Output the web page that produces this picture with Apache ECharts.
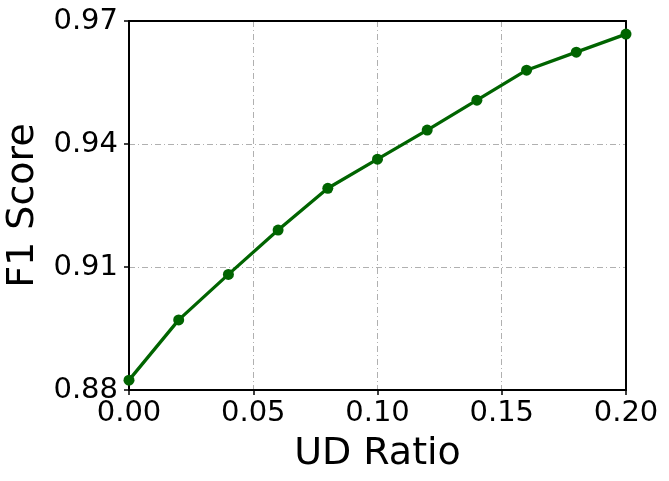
<!DOCTYPE html>
<html>
<head>
	<meta charset="utf-8">
	<title>UD Ratio vs F1 Score</title>
	<script type="text/javascript" src="https://cdn.jsdelivr.net/npm/echarts@6/dist/echarts.min.js"></script>
	<style type="text/css">
		html, body{
			margin:0;
			padding:0;
			background:#fff;
		}
	</style>
</head>
<body>
<div id="main" style="width: 669px;height: 481px"></div>
<script type="text/javascript">
	// values
	var udRatio = [0.00, 0.02, 0.04, 0.06, 0.08, 0.10, 0.12, 0.14, 0.16, 0.18, 0.20];
	var f1Score = [0.8824, 0.8971, 0.9082, 0.9190, 0.9292, 0.9363, 0.9434, 0.9507, 0.9580, 0.9624, 0.9668];
	var xTicks = [0, 0.05, 0.10, 0.15, 0.20];
	var yTicks = [0.88, 0.91, 0.94, 0.97];

	var points = [];
	for(var i=0;i<udRatio.length;i++){
		points.push([udRatio[i], f1Score[i]]);
	}

	var font = 'DejaVu Sans';
	var gridDash = {
		color: '#b0b0b0',
		width: 1,
		type: [6, 3, 1, 3]
	};
	var frame = { color: '#000', width: 2 };

	var myChart = echarts.init(document.getElementById("main"));

	var option = {
		animation: false,
		grid: {
			top: 21,
			left: 129,
			right: 43,
			bottom: 91,
			show: false,
			containLabel: false,
			outerBoundsMode: 'none'
		},
		xAxis: [{
			type: 'value',
			min: 0,
			max: 0.2,
			interval: 0.05,
			name: 'UD Ratio',
			nameLocation: 'middle',
			nameGap: 45,
			nameTextStyle: {
				fontFamily: font,
				fontSize: 38,
				color: '#000'
			},
			axisLine: { show: true, lineStyle: frame },
			axisTick: {
				show: true,
				length: 5,
				lineStyle: { color: '#000', width: 1.5 }
			},
			axisLabel: {
				margin: 9,
				fontFamily: font,
				fontSize: 29,
				color: '#000',
				formatter: function(v){
					return xTicks.indexOf(+v.toFixed(2)) >= 0 ? v.toFixed(2) : '';
				}
			},
			splitLine: {
				show: true,
				showMinLine: false,
				showMaxLine: false,
				lineStyle: gridDash
			}
		}, {
			// top edge of the frame
			type: 'value',
			position: 'top',
			min: 0,
			max: 0.2,
			axisLine: { show: true, onZero: false, lineStyle: frame },
			axisTick: { show: false },
			axisLabel: { show: false },
			splitLine: { show: false }
		}],
		yAxis: [{
			type: 'value',
			min: 0.88,
			max: 0.97,
			interval: 0.03,
			name: 'F1 Score',
			nameLocation: 'middle',
			nameGap: 84,
			nameTextStyle: {
				fontFamily: font,
				fontSize: 38,
				color: '#000'
			},
			axisLine: { show: true, lineStyle: frame },
			axisTick: {
				show: true,
				length: 5,
				lineStyle: { color: '#000', width: 1.5 }
			},
			axisLabel: {
				margin: 11,
				fontFamily: font,
				fontSize: 29,
				color: '#000',
				formatter: function(v){
					return yTicks.indexOf(+v.toFixed(2)) >= 0 ? v.toFixed(2) : '';
				}
			},
			splitLine: {
				show: true,
				showMinLine: false,
				showMaxLine: false,
				lineStyle: gridDash
			}
		}, {
			// right edge of the frame
			type: 'value',
			position: 'right',
			min: 0.88,
			max: 0.97,
			axisLine: { show: true, onZero: false, lineStyle: frame },
			axisTick: { show: false },
			axisLabel: { show: false },
			splitLine: { show: false }
		}],
		series: [{
			type: 'line',
			data: points,
			symbol: 'circle',
			symbolSize: 11,
			showAllSymbol: true,
			clip: false,
			z: 5,
			itemStyle: {
				color: '#006400'
			},
			lineStyle: {
				color: '#006400',
				width: 3.3
			}
		}]
	};

	myChart.setOption(option);
</script>
</body>
</html>
